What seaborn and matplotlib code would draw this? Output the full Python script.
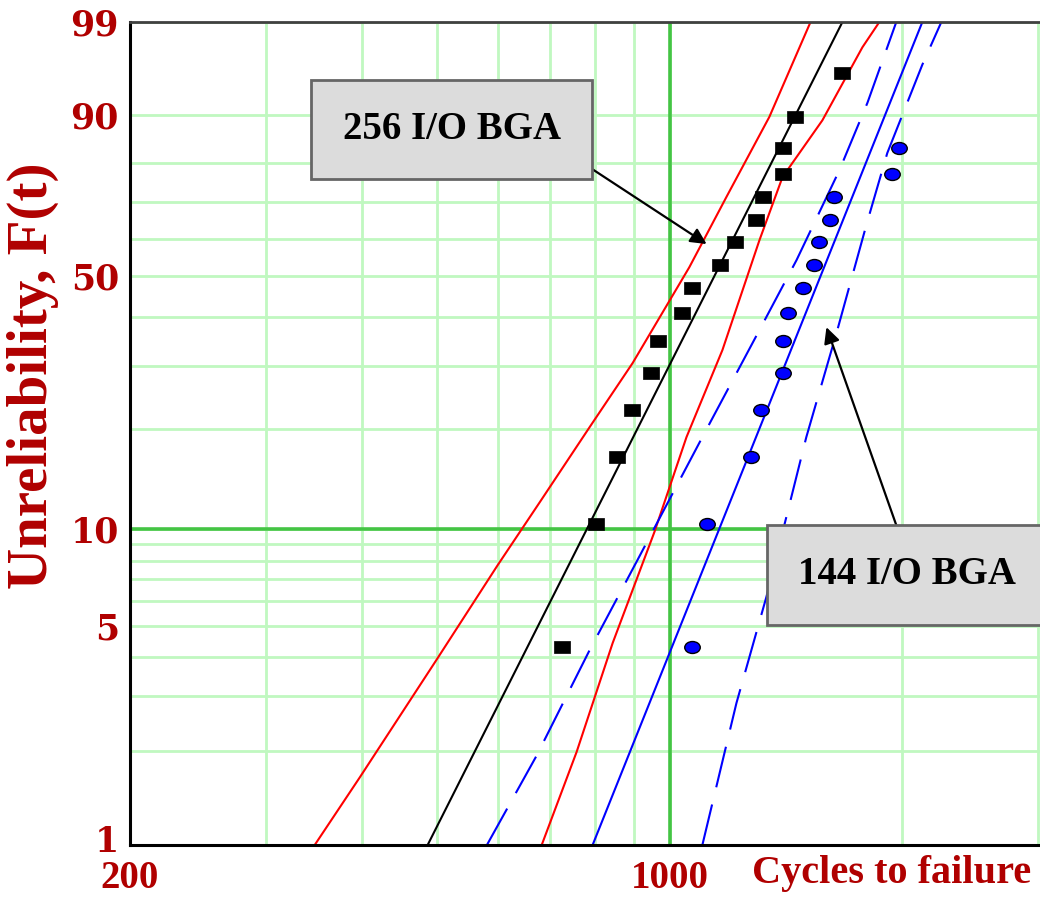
import matplotlib
matplotlib.use("Agg")
import matplotlib.pyplot as plt
import numpy as np
import pandas as pd
import seaborn as sns
from matplotlib.path import Path
from matplotlib.ticker import NullFormatter
from matplotlib.transforms import ScaledTranslation

# median ranks (%)
rank_F = [4.3, 10.4, 16.5, 22.6, 28.7, 34.8, 40.9, 47.0, 53.0, 59.1, 65.2, 71.3, 77.4, 83.5, 89.6, 95.7]

# 256 I/O BGA failures (black squares)
cycles_256 = [725, 804, 856, 893, 945, 965, 1037, 1071, 1164, 1214, 1296, 1320, 1401, 1405, 1452, 1675]
F_256 = rank_F

# 144 I/O BGA failures (blue circles)
cycles_144 = [1071, 1117, 1277, 1312, 1405, 1405, 1422, 1487, 1541, 1564, 1616, 1635, 1944, 1985]
F_144 = rank_F[:14]

# fitted lines and confidence bounds
fit256_cycles = [486, 1675]
fit256_F = [1, 99]
lo256_cycles = [347, 397, 499, 599, 679, 788, 896, 1061, 1185, 1347, 1523]
lo256_F = [1, 1.65, 3.91, 7.76, 12.1, 20.2, 30.5, 52.4, 71.4, 89.7, 99]
hi256_cycles = [683, 758, 844, 956, 1052, 1171, 1308, 1401, 1578, 1778, 1870]
hi256_F = [1, 1.99, 4.42, 9.82, 18.9, 33.0, 59.7, 76.6, 89.1, 97.8, 99]

fit144_cycles = [795, 2126]
fit144_F = [1, 99]
lo144_cycles = [580, 673, 788, 909, 1103, 1308, 1461, 1660, 1805, 1967]
lo144_F = [1, 1.94, 4.20, 8.05, 18.9, 37.2, 54.3, 78.3, 92.0, 99]
hi144_cycles = [1103, 1221, 1335, 1504, 1650, 1799, 1915, 2126, 2250]
hi144_F = [1, 2.85, 6.17, 18.9, 37.2, 63.8, 82.4, 96.5, 99]

y_major = [1, 5, 10, 50, 90, 99]
y_minor = [2, 3, 4, 6, 7, 8, 9, 20, 30, 40, 60, 70, 80]
x_major = [200, 1000]
x_minor = [300, 400, 500, 600, 700, 800, 900, 2000, 3000]

RED = "#b00000"
GRID = "#c0f8c0"
DKGREEN = "#44c444"


def weibull_fwd(p):
    p = np.clip(np.asarray(p, dtype=float), 1e-9, 100 - 1e-9)
    return np.log(-np.log(1 - p / 100.0))


def weibull_inv(w):
    return 100.0 * (1 - np.exp(-np.exp(np.asarray(w, dtype=float))))


lines = pd.concat([
    pd.DataFrame({"cycles": fit256_cycles, "F": fit256_F, "curve": "fit256"}),
    pd.DataFrame({"cycles": lo256_cycles, "F": lo256_F, "curve": "lo256"}),
    pd.DataFrame({"cycles": hi256_cycles, "F": hi256_F, "curve": "hi256"}),
    pd.DataFrame({"cycles": fit144_cycles, "F": fit144_F, "curve": "fit144"}),
    pd.DataFrame({"cycles": lo144_cycles, "F": lo144_F, "curve": "lo144"}),
    pd.DataFrame({"cycles": hi144_cycles, "F": hi144_F, "curve": "hi144"}),
], ignore_index=True)

line_colors = {"fit256": "black", "lo256": "#ff0000", "hi256": "#ff0000",
               "fit144": "#0000ff", "lo144": "#0000ff", "hi144": "#0000ff"}
line_dashes = {"fit256": "", "lo256": "", "hi256": "",
               "fit144": "", "lo144": (20, 8.5), "hi144": (20, 8.5)}

sns.set_theme(style="white")

fig = plt.figure(figsize=(10.4, 9), dpi=100)
ax = fig.add_axes([0.125, 0.0611, 0.875, 0.9144])

sns.lineplot(data=lines, x="cycles", y="F", hue="curve", style="curve",
             palette=line_colors, dashes=line_dashes, sort=False, estimator=None,
             linewidth=1.5, legend=False, ax=ax, zorder=2)

rect = Path([(-1.3, -1), (1.3, -1), (1.3, 1), (-1.3, 1), (-1.3, -1)],
            [Path.MOVETO, Path.LINETO, Path.LINETO, Path.LINETO, Path.CLOSEPOLY])
ell = Path.unit_circle()
ell = Path(ell.vertices * np.array([1.3, 1.0]), ell.codes)

sns.scatterplot(x=cycles_256, y=F_256, marker=rect, s=125, color="black",
                edgecolor="black", linewidth=0.5, ax=ax, zorder=4)
sns.scatterplot(x=cycles_144, y=F_144, marker=ell, s=125, color="#0000ff",
                edgecolor="black", linewidth=1.0, ax=ax, zorder=4)

ax.set_xscale("log")
ax.set_yscale("function", functions=(weibull_fwd, weibull_inv))
ax.set_xlim(200, 3020)
ax.set_ylim(1, 99)

ax.set_xticks(x_minor, minor=True)
ax.set_yticks(y_minor, minor=True)
ax.set_xticks(x_major, labels=[f"{v:g}" for v in x_major],
              fontfamily="Liberation Serif", fontweight="bold", fontsize=28, color=RED)
ax.set_yticks(y_major, labels=[f"{v:g}" for v in y_major],
              fontfamily="DejaVu Serif", fontweight="bold", fontsize=25, color=RED)
ax.xaxis.set_minor_formatter(NullFormatter())
ax.yaxis.set_minor_formatter(NullFormatter())

ax.set_axisbelow(True)
ax.grid(True, which="both", color=GRID, linewidth=2)
ax.axvline(1000, color=DKGREEN, linewidth=2.6, zorder=1.2)
ax.axhline(10, color=DKGREEN, linewidth=2.6, zorder=1.2)

ax.tick_params(axis="both", which="both", length=6, width=2, color=GRID)
ax.tick_params(axis="x", which="major", pad=5)
ax.tick_params(axis="y", which="major", pad=2)

# lift the "1" a little so it sits clear of the "200" below it
lab1 = ax.yaxis.get_major_ticks()[0].label1
lab1.set_transform(lab1.get_transform() + ScaledTranslation(0, 5 / 72, fig.dpi_scale_trans))

for s in ["left", "bottom"]:
    ax.spines[s].set_color("black")
    ax.spines[s].set_linewidth(2.2)
ax.spines["top"].set_color("#404040")
ax.spines["top"].set_linewidth(2)
ax.spines["right"].set_visible(False)

ax.set_ylabel("Unreliability, F(t)", fontfamily="Liberation Serif", fontweight="bold",
              fontsize=41, color=RED)
ax.yaxis.set_label_coords(-0.078, 0.57)
ax.set_xlabel("Cycles to failure", fontfamily="Liberation Serif", fontweight="bold",
              fontsize=29, color=RED, ha="right", va="top")
ax.xaxis.set_label_coords(0.99, -0.012)

box = dict(boxstyle="square,pad=0.8", fc="#dcdcdc", ec="#666666", lw=2)
ax.annotate("256 I/O BGA", xy=(1117, 58.6), xytext=(522, 87.3), textcoords="data",
            ha="center", va="center", fontsize=28, fontweight="bold",
            fontfamily="Liberation Serif", color="black", bbox=box, zorder=6,
            arrowprops=dict(arrowstyle="-|>", color="black", lw=1.6, mutation_scale=24,
                            relpos=(1, 0), shrinkA=0, shrinkB=0, patchA=None))
ax.annotate("144 I/O BGA", xy=(1597, 37.8), xytext=(2033, 7.23), textcoords="data",
            ha="center", va="center", fontsize=28, fontweight="bold",
            fontfamily="Liberation Serif", color="black", bbox=box, zorder=6,
            arrowprops=dict(arrowstyle="-|>", color="black", lw=1.6, mutation_scale=24,
                            relpos=(0.5, 1), shrinkA=0, shrinkB=0, patchA=None))

fig.savefig("out.png", dpi=100)
